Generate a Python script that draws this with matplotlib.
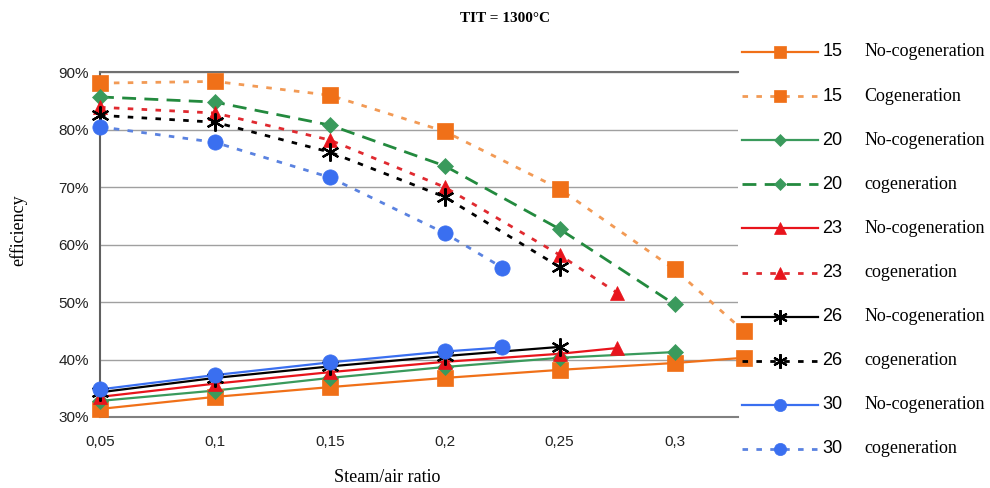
import matplotlib
matplotlib.use('Agg')
import matplotlib.pyplot as plt
from matplotlib.ticker import FuncFormatter

# steam/air ratio values
x_15 = [0.05, 0.1, 0.15, 0.2, 0.25, 0.3, 0.33]
x_20 = [0.05, 0.1, 0.15, 0.2, 0.25, 0.3]
x_23 = [0.05, 0.1, 0.15, 0.2, 0.25, 0.275]
x_26 = [0.05, 0.1, 0.15, 0.2, 0.25]
x_30 = [0.05, 0.1, 0.15, 0.2, 0.225]

# efficiency (%)
nocog_15 = [31.4, 33.5, 35.2, 36.8, 38.2, 39.4, 40.3]
cog_15 = [88.1, 88.4, 86.0, 79.7, 69.7, 55.7, 45.0]
nocog_20 = [32.8, 34.6, 36.8, 38.7, 40.3, 41.3]
cog_20 = [85.7, 84.8, 80.8, 73.7, 62.7, 49.6]
nocog_23 = [33.5, 35.8, 37.8, 39.6, 41.0, 42.0]
cog_23 = [83.9, 82.9, 78.2, 70.0, 58.2, 51.6]
nocog_26 = [34.3, 36.8, 38.8, 40.6, 42.2]
cog_26 = [82.5, 81.3, 76.1, 68.3, 56.1]
nocog_30 = [34.8, 37.3, 39.5, 41.4, 42.1]
cog_30 = [80.5, 77.8, 71.7, 62.0, 56.0]

x_ticks = [0.05, 0.1, 0.15, 0.2, 0.25, 0.3]
x_tick_labels = ['0,05', '0,1', '0,15', '0,2', '0,25', '0,3']

star = (6, 2, 0)
dots = (0, (2, 3))

# (label, desc, x, y, line color, marker color, linestyle, marker, marker size)
series = [
    ('15', 'No-cogeneration', x_15, nocog_15, '#f07018', '#f07018', '-', 's', 11),
    ('15', 'Cogeneration', x_15, cog_15, '#f29a55', '#f07018', dots, 's', 11),
    ('20', 'No-cogeneration', x_20, nocog_20, '#3a9a5c', '#3a9a5c', '-', 'D', 8),
    ('20', 'cogeneration', x_20, cog_20, '#238a3e', '#3a9a5c', (0, (5, 3)), 'D', 8),
    ('23', 'No-cogeneration', x_23, nocog_23, '#e8141c', '#e8141c', '-', '^', 10),
    ('23', 'cogeneration', x_23, cog_23, '#e02a30', '#e8141c', dots, '^', 10),
    ('26', 'No-cogeneration', x_26, nocog_26, '#000000', '#000000', '-', star, 13),
    ('26', 'cogeneration', x_26, cog_26, '#000000', '#000000', dots, star, 13),
    ('30', 'No-cogeneration', x_30, nocog_30, '#3a6ff0', '#3a6ff0', '-', 'o', 11),
    ('30', 'cogeneration', x_30, cog_30, '#5a82e0', '#3a6ff0', dots, 'o', 11),
]

fig = plt.figure(figsize=(9.9, 4.88), dpi=100)
ax = fig.add_axes([0.101, 0.1455, 0.644, 0.7065])

for lab, desc, xs, ys, col, mcol, ls, mk, ms in series:
    lw = 1.6 if ls == '-' else 2.0
    ax.plot(xs, ys, color=col, linestyle=ls, linewidth=lw, zorder=3, clip_on=False)
    ax.plot(xs, ys, linestyle='none', marker=mk, markersize=ms, color=mcol,
            markeredgewidth=1.6 if mk == star else 0.5,
            markeredgecolor=mcol, clip_on=False, zorder=4)

ax.set_xlim(0.05, 0.3274)
ax.set_ylim(30, 90)
ax.set_yticks([30, 40, 50, 60, 70, 80, 90])
ax.yaxis.set_major_formatter(FuncFormatter(lambda v, p: '%d%%' % v))
ax.set_xticks(x_ticks)
ax.set_xticklabels(x_tick_labels)
ax.tick_params(labelsize=11, length=0)
ax.tick_params(axis='x', pad=13)
ax.tick_params(axis='y', pad=8)
for t in ax.get_xticklabels() + ax.get_yticklabels():
    t.set_family('Liberation Sans')
    t.set_color('#222222')
ax.grid(axis='y', color='#a0a0a0', linewidth=1)
ax.set_axisbelow(True)
ax.spines['right'].set_visible(False)
ax.spines['top'].set_color('#707070')
ax.spines['top'].set_linewidth(1.5)
ax.spines['left'].set_color('#606060')
ax.spines['left'].set_linewidth(1.5)
ax.spines['bottom'].set_color('#808080')
ax.spines['bottom'].set_linewidth(1.5)

ax.set_xlabel('Steam/air ratio', family='Liberation Serif', fontsize=13, va='center')
ax.xaxis.set_label_coords((387 - 100) / 638.0, -(478 - 417) / 345.0)
ax.set_ylabel('efficiency', family='Liberation Serif', fontsize=13, va='center')
ax.yaxis.set_label_coords(-(100 - 18) / 638.0, (417 - 230) / 345.0)
fig.text(0.51, 0.963, 'TIT = 1300°C', family='Liberation Serif', fontsize=11,
         fontweight='bold', ha='center', va='center')

# legend drawn in its own axes on the right
lg = fig.add_axes([0.74, 0.0, 0.26, 1.0])
lg.set_xlim(0, 990 * 0.26)
lg.set_ylim(488, 0)
lg.axis('off')
for i, (lab, desc, xs, ys, col, mcol, ls, mk, ms) in enumerate(series):
    yy = 52 + i * 44.1
    lg.plot([9, 85], [yy, yy], color=col, linestyle=ls,
            linewidth=1.6 if ls == '-' else 2.0)
    lg.plot([47], [yy], color=mcol, marker=mk, markersize=ms * 0.8,
            markeredgewidth=1.6 if mk == star else 0.5, markeredgecolor=mcol)
    lg.text(90, yy, lab, family='Liberation Sans', fontsize=13, va='center')
    lg.text(132, yy, desc, family='Liberation Serif', fontsize=13, va='center')

fig.savefig('out.png', dpi=100)
